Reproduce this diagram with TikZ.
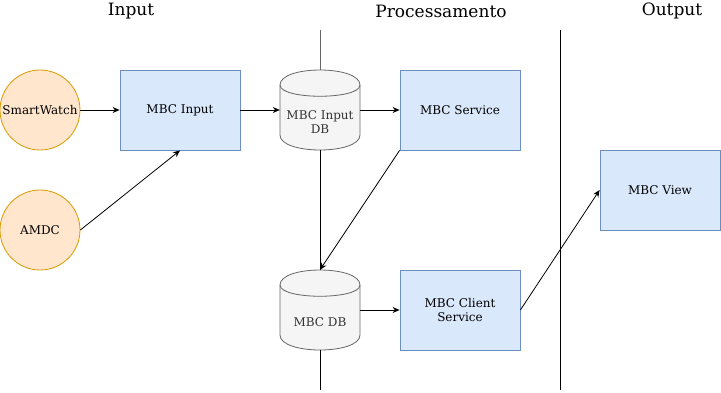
\documentclass[tikz,border=0pt]{standalone}
\usepackage{fontspec}
\setmainfont{DejaVu Serif}
\usetikzlibrary{arrows.meta}
\definecolor{procfill}{HTML}{DAE8FC}
\definecolor{procline}{HTML}{6C8EBF}
\definecolor{srcfill}{HTML}{FFE6CC}
\definecolor{srcline}{HTML}{D79B00}
\definecolor{dbfill}{HTML}{F5F5F5}
\definecolor{dbline}{HTML}{666666}
\definecolor{dbtextcol}{HTML}{333333}
% cylinder of 80 x 80 centred on a coordinate
\newcommand\dbcylinder[1]{%
  \begin{scope}[shift={(#1)}]
    \filldraw[fill=dbfill,draw=dbline,line width=0.8pt]
      (-40,-25) .. controls (-40,-45) and (40,-45) .. (40,-25)
      -- (40,25) .. controls (40,45) and (-40,45) .. (-40,25) -- cycle;
    \draw[dbline,line width=0.8pt]
      (-40,-25) .. controls (-40,-10) and (40,-10) .. (40,-25);
  \end{scope}}
\begin{document}
\begin{tikzpicture}[x=1pt,y=-1pt,
  every node/.style={font=\fontsize{12}{14}\selectfont,align=center,inner sep=0pt},
  title/.style={font=\fontsize{17}{20}\selectfont},
  procbox/.style={draw=procline,fill=procfill,line width=0.8pt,minimum width=120pt,minimum height=80pt},
  source/.style={circle,draw=srcline,fill=srcfill,line width=0.8pt,minimum size=80pt},
  dbnode/.style={minimum width=80pt,minimum height=80pt},
  dbtext/.style={text=dbtextcol,yshift=-12pt},
  flow/.style={-{Stealth[length=7pt,width=6pt]},line width=0.8pt},
  divider/.style={line width=0.8pt}]
\useasboundingbox (0,0) rectangle (721,392);

% column titles
\node[title] (tin) at (131,11) {Input};
\node[title] (tproc) at (441,11) {Processamento};
\node[title] (tout) at (672,11) {Output};

% storage cylinders
\coordinate (c1) at (320,110);
\coordinate (c2) at (320,310);
\dbcylinder{c1}
\dbcylinder{c2}
\node[dbnode,label={[dbtext]center:{MBC Input\\DB}}] (db1) at (c1) {};
\node[dbnode,label={[dbtext]center:{MBC DB}}] (db2) at (c2) {};

% sources
\node[source] (watch) at (40,110) {SmartWatch};
\node[source] (amdc) at (40,230) {AMDC};

% processing boxes
\node[procbox] (input) at (180,110) {MBC Input};
\node[procbox] (service) at (460,110) {MBC Service};
\node[procbox] (client) at (460,310) {MBC Client\\Service};
\node[procbox] (view) at (660,190) {MBC View};

% vertical guide through the storage column and divider
\coordinate (gtop) at (320,30);
\coordinate (gbot) at (320,390);
\coordinate (dtop) at (560,30);
\coordinate (dbot) at (560,390);
\draw[dbline,line width=0.8pt] (gtop) -- (db1.north);
\draw[divider] (db1.south) -- (db2.north);
\draw[divider] (db2.south) -- (gbot);
\draw[divider] (dtop) -- (dbot);

% data flow
\draw[flow] (watch.east) -- (input.west);
\draw[flow] (amdc.east) -- (input.south);
\draw[flow] (input.east) -- (db1.west);
\draw[flow] (db1.east) -- (service.west);
\draw[flow] (service.south west) -- (db2.north);
\draw[flow] (db2.east) -- (client.west);
\draw[flow] (client.east) -- (view.west);
\end{tikzpicture}
\end{document}
